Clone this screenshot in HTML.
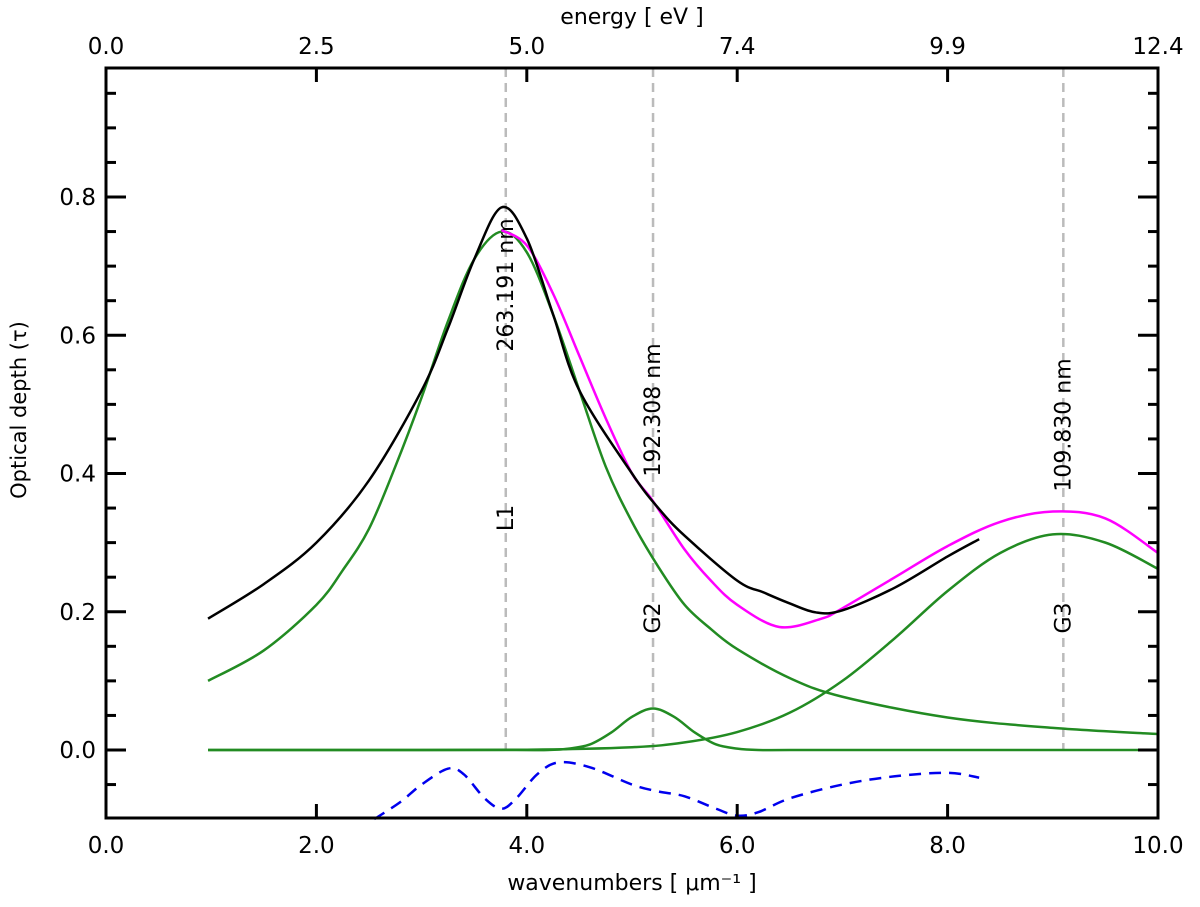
<!DOCTYPE html>
<html><head><meta charset="utf-8"><style>
body{margin:0;background:#fff}
svg{display:block;font-family:"DejaVu Sans","Liberation Sans",sans-serif}
</style></head><body>
<svg id="chart" width="1200" height="907" viewBox="0 0 1200 907" xmlns="http://www.w3.org/2000/svg">
<g id="grid"></g><g id="series"></g><g id="axes"></g>
</svg>
<script>
const blackX=[0.97,1.5,2.0,2.5,3.0,3.25,3.5,3.76,4.0,4.25,4.5,5.0,5.25,5.5,6.0,6.25,6.5,6.75,7.0,7.5,8.0,8.3];
const blackY=[0.19,0.24,0.30,0.39,0.52,0.61,0.71,0.785,0.74,0.63,0.52,0.40,0.35,0.31,0.245,0.228,0.212,0.199,0.202,0.235,0.28,0.305];
const magX=[3.76,4.0,4.25,4.5,4.75,5.0,5.2,5.5,5.75,6.0,6.4,6.8,7.0,7.5,8.0,8.5,9.0,9.5,10];
const magY=[0.752,0.73,0.66,0.57,0.48,0.40,0.36,0.29,0.245,0.21,0.178,0.19,0.205,0.25,0.295,0.33,0.345,0.335,0.285];
const l1X=[0.97,1.5,2.0,2.25,2.5,2.75,3.0,3.25,3.5,3.76,4.0,4.25,4.5,4.75,5.0,5.25,5.5,5.75,6.0,6.5,7.0,8.0,9.0,10];
const l1Y=[0.10,0.144,0.21,0.26,0.32,0.41,0.51,0.62,0.71,0.75,0.72,0.63,0.52,0.41,0.33,0.265,0.21,0.175,0.146,0.104,0.077,0.047,0.032,0.023];
const g2X=[0.97,3.0,3.9,4.2,4.4,4.6,4.8,5.0,5.2,5.4,5.6,5.8,6.0,6.2,6.5,7.5,10];
const g2Y=[0,0,0,0,0.002,0.008,0.025,0.048,0.06,0.048,0.025,0.008,0.002,0,0,0,0];
const g3X=[0.97,2.5,4.0,5.0,5.5,6.0,6.5,7.0,7.5,8.0,8.5,9.0,9.5,10];
const g3Y=[0,0,0.0004,0.004,0.011,0.026,0.054,0.10,0.162,0.23,0.285,0.312,0.30,0.262];
const resX=[2.55,2.8,3.0,3.25,3.4,3.6,3.76,3.9,4.1,4.3,4.6,5.0,5.25,5.5,5.8,6.0,6.2,6.5,7.0,7.5,8.0,8.3];
const resY=[-0.1,-0.075,-0.05,-0.027,-0.035,-0.07,-0.085,-0.07,-0.035,-0.018,-0.025,-0.05,-0.06,-0.067,-0.085,-0.095,-0.09,-0.07,-0.05,-0.038,-0.033,-0.04];
const vLines=[3.8,5.2,9.1];
const vLabels=["263.191 nm","192.308 nm","109.830 nm"];
const vTags=["L1","G2","G3"];
const xTicks=[0,2,4,6,8,10];
const xTickLabels=["0.0","2.0","4.0","6.0","8.0","10.0"];
const yTicks=[0,0.2,0.4,0.6,0.8];
const yTickLabels=["0.0","0.2","0.4","0.6","0.8"];
const eLabels=["0.0","2.5","5.0","7.4","9.9","12.4"];

const X0=106,X1=1158,YT=68,YB=818;
const xs=v=>X0+v*105.2;
const ys=v=>750-v*691.25;
const NS="http://www.w3.org/2000/svg";
function mk(tag,at,parent){const e=document.createElementNS(NS,tag);for(const k in at)e.setAttribute(k,at[k]);document.getElementById(parent).appendChild(e);return e;}
function path(X,Y){const p=X.map((x,i)=>[xs(x),ys(Y[i])]);let d="M"+p[0][0]+","+p[0][1];
 for(let i=0;i<p.length-1;i++){const a=p[Math.max(0,i-1)],b=p[i],c=p[i+1],e=p[Math.min(p.length-1,i+2)];
 d+=" C"+(b[0]+(c[0]-a[0])/6)+","+(b[1]+(c[1]-a[1])/6)+" "+(c[0]-(e[0]-b[0])/6)+","+(c[1]-(e[1]-b[1])/6)+" "+c[0]+","+c[1];}return d;}

vLines.forEach((v,i)=>{
 const l=mk("line",{x1:xs(v),x2:xs(v),y1:YT,y2:750,stroke:"#bbb","stroke-width":2.5,"stroke-dasharray":"9,6"},"grid");
 
 
});
const lblY=[285,410,425],tagY=[518,618,618];
vLines.forEach((v,i)=>{
 const t=mk("text",{x:0,y:0,transform:`translate(${xs(v)+7},${lblY[i]}) rotate(-90)`,"font-size":22,"text-anchor":"middle",fill:"#000"},"grid");
 t.textContent=vLabels[i];
 
 
 const g=mk("text",{x:0,y:0,transform:`translate(${xs(v)+7},${tagY[i]}) rotate(-90)`,"font-size":22,"text-anchor":"middle",fill:"#000"},"grid");
 g.textContent=vTags[i];
 
 
});

const ser=[[l1X,l1Y,"#228B22","component-l1"],[g2X,g2Y,"#228B22","component-g2"],[g3X,g3Y,"#228B22","component-g3"],[magX,magY,"#ff00ff","model-fit"],[blackX,blackY,"#000","observed-curve"]];
ser.forEach(s=>{
 const p=mk("path",{d:path(s[0],s[1]),fill:"none",stroke:s[2],"stroke-width":2.5},"series");
 
 
});
const r=mk("path",{d:path(resX,resY),fill:"none",stroke:"#0000ee","stroke-width":2.5,"stroke-dasharray":"12,8"},"series");



const fr=mk("rect",{x:X0,y:YT,width:X1-X0,height:YB-YT,fill:"none",stroke:"#000","stroke-width":3},"axes");


xTicks.forEach((v,i)=>{
 mk("line",{x1:xs(v),x2:xs(v),y1:YB,y2:YB-14,stroke:"#000","stroke-width":3},"axes");
 mk("line",{x1:xs(v),x2:xs(v),y1:YT,y2:YT+14,stroke:"#000","stroke-width":3},"axes");
 const t=mk("text",{x:xs(v),y:853,"font-size":23,"text-anchor":"middle"},"axes");
 t.textContent=xTickLabels[i];
 
 
 const e=mk("text",{x:xs(v),y:54,"font-size":23,"text-anchor":"middle"},"axes");
 e.textContent=eLabels[i];
 
 
});
for(let k=-2;k<=19;k++){const v=k*0.05,y=ys(v);if(y<YT+2||y>YB-2)continue;const maj=k%4===0;
 mk("line",{x1:X0,x2:X0+(maj?20:10),y1:y,y2:y,stroke:"#000","stroke-width":3},"axes");
 mk("line",{x1:X1,x2:X1-(maj?20:10),y1:y,y2:y,stroke:"#000","stroke-width":3},"axes");}
yTicks.forEach((v,i)=>{
 const t=mk("text",{x:96,y:ys(v)+8,"font-size":23,"text-anchor":"end"},"axes");
 t.textContent=yTickLabels[i];
 
 
});
let t=mk("text",{x:632,y:890,"font-size":22,"text-anchor":"middle"},"axes");
t.textContent="wavenumbers [ μm⁻¹ ]";


t=mk("text",{x:632,y:24,"font-size":22,"text-anchor":"middle"},"axes");
t.textContent="energy [ eV ]";


t=mk("text",{x:0,y:0,transform:"translate(26,410) rotate(-90)","font-size":21,"text-anchor":"middle"},"axes");
t.textContent="Optical depth (τ)";


</script>
</body></html>
